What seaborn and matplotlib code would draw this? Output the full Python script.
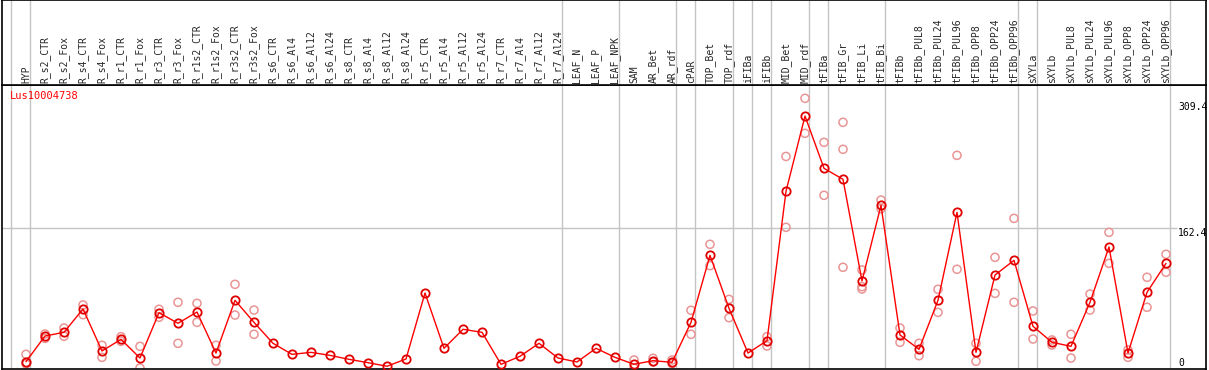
import numpy as np
import pandas as pd
import matplotlib
matplotlib.use("Agg")
import matplotlib.pyplot as plt
import matplotlib.transforms as mtransforms
import seaborn as sns

gene = "Lus10004738"

samples = [
    "HYP", "R_s2_CTR", "R_s2_Fox", "R_s4_CTR", "R_s4_Fox", "R_r1_CTR", "R_r1_Fox",
    "R_r3_CTR", "R_r3_Fox", "R_r1s2_CTR", "R_r1s2_Fox", "R_r3s2_CTR", "R_r3s2_Fox",
    "R_s6_CTR", "R_s6_Al4", "R_s6_Al12", "R_s6_Al24", "R_s8_CTR", "R_s8_Al4",
    "R_s8_Al12", "R_s8_Al24", "R_r5_CTR", "R_r5_Al4", "R_r5_Al12", "R_r5_Al24",
    "R_r7_CTR", "R_r7_Al4", "R_r7_Al12", "R_r7_Al24", "LEAF_N", "LEAF_P", "LEAF_NPK",
    "SAM", "AR_Bet", "AR_rdf", "cPAR", "TOP_Bet", "TOP_rdf", "iFIBa", "iFIBb",
    "MID_Bet", "MID_rdf", "tFIBa", "tFIB_Gr", "tFIB_Li", "tFIB_Bi", "tFIBb",
    "tFIBb_PUL8", "tFIBb_PUL24", "tFIBb_PUL96", "tFIBb_OPP8", "tFIBb_OPP24",
    "tFIBb_OPP96", "sXYLa", "sXYLb", "sXYLb_PUL8", "sXYLb_PUL24", "sXYLb_PUL96",
    "sXYLb_OPP8", "sXYLb_OPP24", "sXYLb_OPP96",
]

mean_vals = [
    7.3, 37.2, 41.5, 68.6, 19.8, 33.3, 11.6, 64.3, 52.0, 65.1, 17.4, 78.7, 53.1,
    28.7, 15.9, 18.2, 14.7, 10.1, 6.2, 2.0, 10.5, 87.2, 22.9, 45.0, 41.5,
    4.3, 13.6, 28.7, 11.6, 7.0, 22.9, 12.4,
    4.3, 8.5, 6.6, 53.1, 131.0, 69.4, 17.4, 31.8, 205.4, 293.0, 232.2, 219.4,
    101.2, 189.2, 38.4, 21.7, 78.7, 181.0, 18.2, 108.1, 125.2,
    48.5, 29.9, 25.2, 76.4, 140.7, 17.4, 88.0, 121.7,
]

nan = np.nan
rep_a = [
    15.9, 39.5, 46.5, 73.3, 26.4, 36.4, 25.2, 68.3, 76.4, 75.2, 26.4, 97.3, 67.4,
    nan, nan, nan, nan, nan, nan, nan, nan, nan, nan, nan, nan,
    nan, nan, nan, nan, nan, nan, nan,
    9.3, 11.3, 9.3, 67.1, 143.8, 79.8, nan, 36.4, 246.0, 313.6, 262.4, 285.7,
    114.0, 195.3, 46.5, 28.7, 91.5, 247.3, 28.7, 128.7, 174.0,
    66.3, 32.6, 39.2, 86.0, 157.8, 21.0, 105.5, 132.2,
]
rep_b = [
    4.7, 34.5, 36.9, 62.0, 12.4, 31.0, 0.0, 59.0, 28.7, 53.1, 8.1, 61.6, 39.2,
    nan, nan, nan, nan, nan, nan, nan, nan, nan, nan, nan, nan,
    nan, nan, nan, nan, nan, nan, nan,
    0.0, 7.0, 5.0, 39.2, 119.0, 58.5, nan, 25.6, 163.6, 272.9, 200.8, 254.3,
    94.6, 185.2, 29.9, 14.3, 64.7, 114.8, 7.8, 86.8, 76.4,
    33.7, 26.7, 11.6, 67.4, 121.7, 12.4, 70.6, 111.3,
]
rep_c = [nan] * len(samples)
rep_c[0] = 6.2
rep_c[43] = 117.1
rep_c[44] = 91.9

# group separators (drawn just right of these sample indices)
separators = [-1, 0, 28, 31, 34, 35, 37, 38, 39, 41, 42, 45, 52, 53, 60]
y_ticks = [0, 162.4, 309.4]

df = pd.DataFrame({"pos": np.arange(len(samples)), "sample": samples, "mean": mean_vals})
reps = pd.DataFrame({"pos": np.arange(len(samples)), "a": rep_a, "b": rep_b, "c": rep_c})
reps = reps.melt(id_vars="pos", value_name="expr").dropna()

sns.set_style("white")
plt.rcParams["font.family"] = ["DejaVu Sans Mono"]

W, H = 1209, 370
fig = plt.figure(figsize=(W / 100, H / 100), dpi=100)


def rect(x0, y0, x1, y1):
    return [x0 / W, 1 - y1 / H, (x1 - x0) / W, (y1 - y0) / H]


ax = fig.add_axes(rect(2, 85, 1206, 369))
axh = fig.add_axes(rect(2, 0, 1206, 85), sharex=ax)

xmin, xmax = (2 - 26) / 19, (1206 - 26) / 19
ax.set_xlim(xmin, xmax)
ax.set_ylim((368 - 369) / 0.86, (368 - 85) / 0.86)
axh.set_ylim(0, 1)

grey = "#c4c4c4"
for s in separators:
    ax.axvline(s + 0.21, color=grey, lw=1, zorder=0)
    axh.axvline(s + 0.21, color=grey, lw=1, zorder=0)
ax.hlines(162.4, xmin, 60.6, color=grey, lw=1, zorder=0)

sns.scatterplot(data=reps, x="pos", y="expr", marker="o", s=34,
                facecolors="none", edgecolor="#e99595", linewidth=1.1,
                ax=ax, zorder=2, legend=False)
sns.lineplot(data=df, x="pos", y="mean", color="red", lw=1, sort=False,
             marker="o", markersize=6, markerfacecolor="none",
             markeredgecolor="#e00000", markeredgewidth=1.3, ax=ax, zorder=3)

ax.set_xlabel("")
ax.set_ylabel("")
ax.set_xticks([])
ax.set_yticks([])
axh.set_yticks([])
axh.tick_params(labelbottom=False, bottom=False)
for a in (ax, axh):
    for sp in a.spines.values():
        sp.set_color("black")
        sp.set_linewidth(1.2)

trans = mtransforms.blended_transform_factory(axh.transData, axh.transAxes)
for i, s in enumerate(samples):
    axh.text(i, 0.02, s, rotation=90, ha="center", va="bottom",
             fontsize=7, transform=trans)

for v in y_ticks:
    ax.text(60.63, v, f"{v:g}", ha="left", va="bottom" if v == 0 else "top",
            fontsize=7, color="black")

ax.text(8 / 1204, 1 - 6 / 284, gene, transform=ax.transAxes, color="red",
        fontsize=7.5, ha="left", va="top")

fig.savefig("out.png", dpi=100)
